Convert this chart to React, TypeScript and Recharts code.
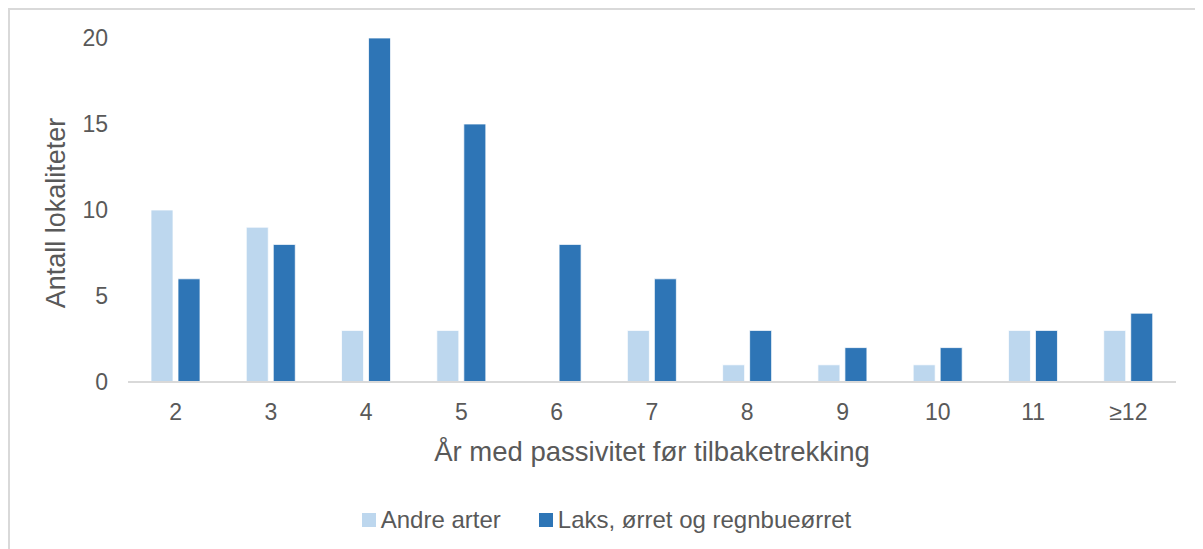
import React from 'react';
import { BarChart, Bar, XAxis, YAxis } from 'recharts';

const categories = ['2', '3', '4', '5', '6', '7', '8', '9', '10', '11', '≥12'];
const andreArter = [10, 9, 3, 3, 0, 3, 1, 1, 1, 3, 3];
const laksOrret = [6, 8, 20, 15, 8, 6, 3, 2, 2, 3, 4];
const yTicks = [0, 5, 10, 15, 20];

const seriesNames = ['Andre arter', 'Laks, ørret og regnbueørret'];
const seriesColors = ['#BDD7EE', '#2E75B6'];

const FONT = '"Liberation Sans", Arial, sans-serif';
const TEXT = '#595959';

const App: React.FC = () => {
    const data = categories.map((c, i) => ({
        category: c,
        andre: andreArter[i],
        laks: laksOrret[i],
    }));

    return (
        <div
            style={{
                position: 'relative',
                width: 1193,
                height: 539,
                borderTop: '2px solid #d9d9d9',
                borderLeft: '2px solid #d9d9d9',
                fontFamily: FONT,
            }}
        >
            <BarChart
                width={1193}
                height={539}
                data={data}
                margin={{ top: 28, right: 27, left: 0, bottom: 107 }}
                barGap={5}
                barSize={22}
            >
                <XAxis
                    dataKey="category"
                    axisLine={{ stroke: '#d9d9d9', strokeWidth: 2 }}
                    tickLine={false}
                    tickSize={0}
                    tickMargin={22}
                    height={60}
                    tick={{ fill: TEXT, fontSize: 23, fontFamily: FONT }}
                    label={{
                        content: (props: any) => {
                            const vb = props.viewBox;
                            return (
                                <text x={vb.x + vb.width / 2} y={451} textAnchor="middle"
                                    fill={TEXT} fontSize={27.5} fontFamily={FONT}>
                                    År med passivitet før tilbaketrekking
                                </text>
                            );
                        },
                    }}
                />
                <YAxis
                    domain={[0, 20]}
                    ticks={yTicks}
                    axisLine={false}
                    tickLine={false}
                    tickSize={0}
                    tickMargin={20}
                    width={118}
                    tick={{ fill: TEXT, fontSize: 23, fontFamily: FONT }}
                    label={{
                        content: (props: any) => {
                            const vb = props.viewBox;
                            const cy = vb.y + vb.height / 2 + 3;
                            return (
                                <text x={55} y={cy} transform={`rotate(-90, 55, ${cy})`} textAnchor="middle"
                                    fill={TEXT} fontSize={27} fontFamily={FONT}>
                                    Antall lokaliteter
                                </text>
                            );
                        },
                    }}
                />
                <Bar dataKey="andre" name={seriesNames[0]} fill={seriesColors[0]} stroke="#fff" strokeWidth={0.75} isAnimationActive={false} />
                <Bar dataKey="laks" name={seriesNames[1]} fill={seriesColors[1]} stroke="#fff" strokeWidth={0.75} isAnimationActive={false} />
            </BarChart>

            {/* Legend */}
            <div
                style={{
                    position: 'absolute',
                    left: 0,
                    width: 1193,
                    top: 496,
                    display: 'flex',
                    justifyContent: 'center',
                    gap: 38,
                    fontSize: 24,
                    color: TEXT,
                }}
            >
                {seriesNames.map((n, i) => (
                    <div key={n} style={{ display: 'flex', alignItems: 'center', gap: 5 }}>
                        <span style={{ display: 'inline-block', width: 14, height: 14, background: seriesColors[i] }}></span>
                        <span>{n}</span>
                    </div>
                ))}
            </div>
        </div>
    );
};

export default App;
